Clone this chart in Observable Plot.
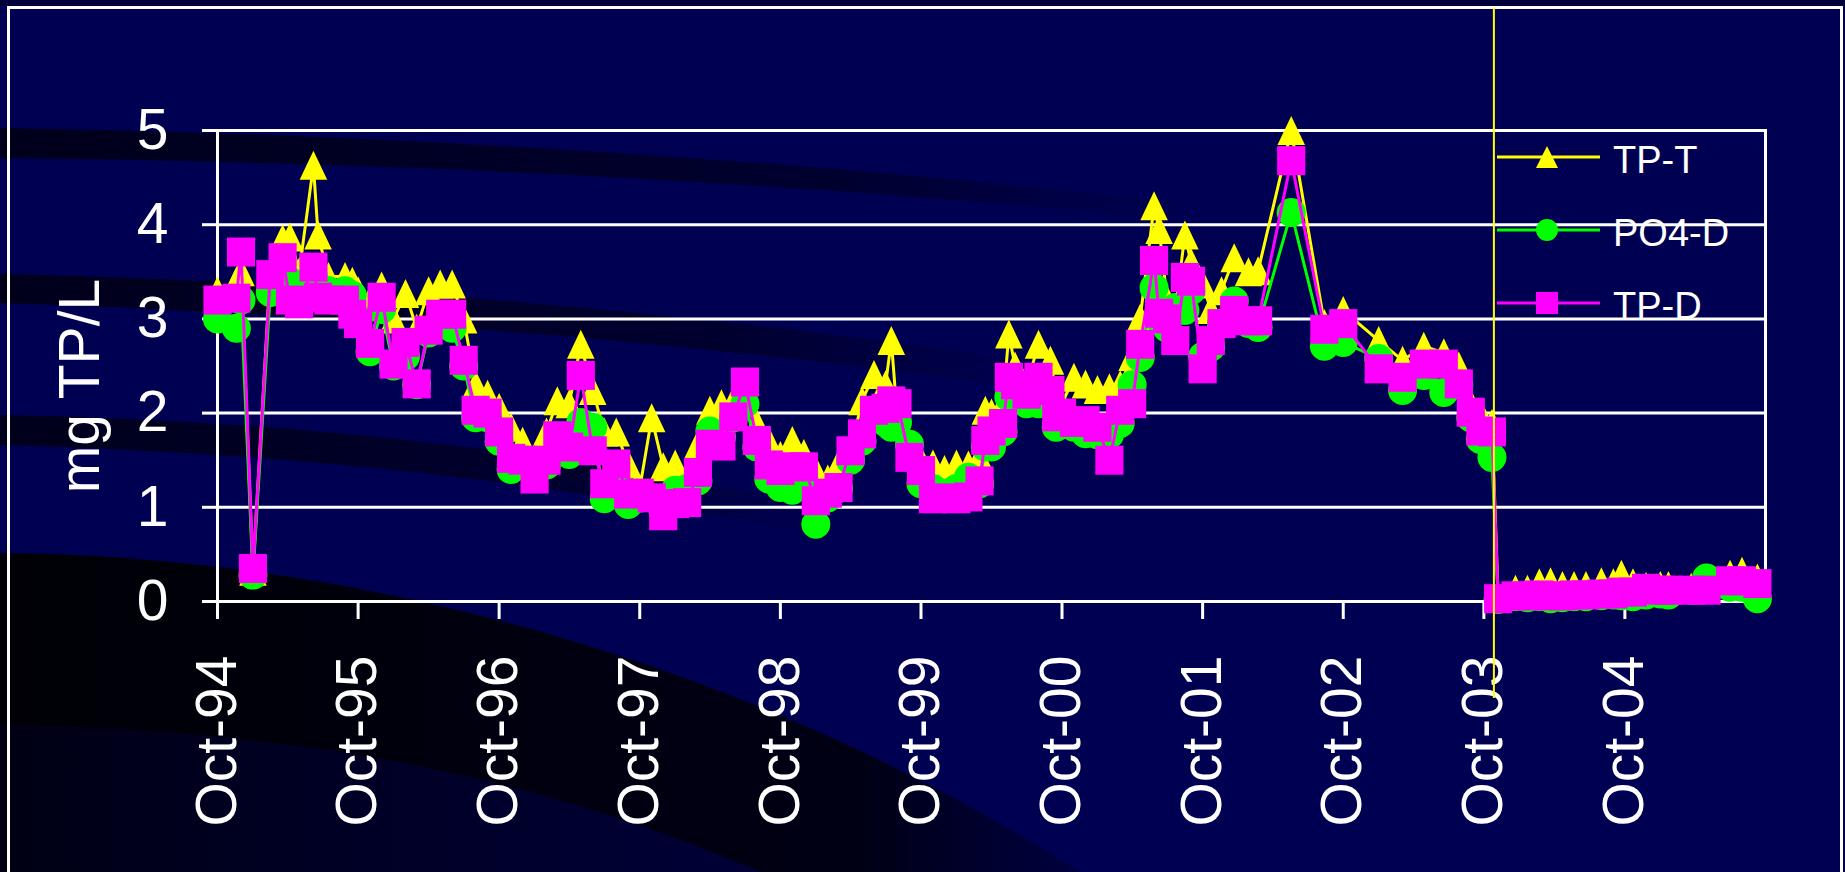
<!DOCTYPE html>
<html>
<head>
<meta charset="utf-8">
<script src="https://cdn.jsdelivr.net/npm/d3@7"></script>
<script src="https://cdn.jsdelivr.net/npm/@observablehq/plot@0.6"></script>
<style>
  html, body { margin: 0; padding: 0; width: 1845px; height: 872px; overflow: hidden; background: #000052; font-family: "Liberation Sans", Arial, sans-serif; }
  #bg { position: absolute; left: 0; top: 0; }
  #topstrip { position: absolute; left: 0; top: 0; width: 1845px; height: 6px; background: #00003a; }
  #border { position: absolute; left: 7px; top: 6px; width: 1830px; height: 1000px; border: 3px solid #ffffff; }
  #chart { position: absolute; left: 0; top: 0; }
  #legend { position: absolute; left: 1497px; top: 0; color: #ffffff; font-size: 38px; font-family: "Liberation Sans", Arial, sans-serif; }
  .lrow { position: absolute; left: 0; width: 260px; height: 40px; }
  .lrow svg { position: absolute; left: 0; top: 0; }
  .lrow span { position: absolute; left: 116px; top: 3px; line-height: 40px; white-space: nowrap; }
</style>
</head>
<body>
<svg id="bg" width="1845" height="872">
  <defs>
    <linearGradient id="fadeA" x1="0" x2="1" y1="0" y2="0">
      <stop offset="0" stop-color="#000018" stop-opacity="0.95"/>
      <stop offset="0.7" stop-color="#000018" stop-opacity="0.6"/>
      <stop offset="1" stop-color="#000018" stop-opacity="0"/>
    </linearGradient>
    <linearGradient id="fadeD" x1="0" x2="1" y1="0" y2="0">
      <stop offset="0" stop-color="#000006" stop-opacity="1"/>
      <stop offset="0.8" stop-color="#00000e" stop-opacity="0.9"/>
      <stop offset="1" stop-color="#000020" stop-opacity="0.4"/>
    </linearGradient>
    <linearGradient id="fadeE" x1="0" x2="1" y1="0" y2="0">
      <stop offset="0" stop-color="#000014" stop-opacity="1"/>
      <stop offset="1" stop-color="#000030" stop-opacity="0.8"/>
    </linearGradient>
  </defs>
  <path d="M0,128 C400,134 800,160 1200,205 L1200,222 C800,182 400,162 0,158 Z" fill="url(#fadeA)"/>
  <path d="M0,274 C300,280 700,310 1050,365 L1050,392 C700,340 300,312 0,303 Z" fill="url(#fadeA)"/>
  <path d="M0,415 C250,420 500,440 820,505 L820,535 C500,472 250,452 0,445 Z" fill="url(#fadeA)"/>
  <path d="M0,553 C350,555 750,660 1080,872 L760,872 C500,760 250,730 0,725 Z" fill="url(#fadeD)"/>
  <path d="M0,725 C250,730 500,760 760,872 L0,872 Z" fill="url(#fadeE)"/>
</svg>
<div id="topstrip"></div>
<div id="border"></div>
<div id="chart"></div>
<div id="legend"></div>
<script>
// ---- data ----
const dates = [
  "1994-10-01","1994-11-19","1994-12-01","1995-01-01","1995-02-15","1995-03-19","1995-04-07","1995-05-01",
  "1995-06-07","1995-06-19","1995-07-16","1995-08-28","1995-09-16","1995-10-01","1995-11-01","1995-12-01",
  "1996-01-01","1996-02-01","1996-03-01","1996-04-01","1996-05-01","1996-06-01","1996-07-01","1996-08-01",
  "1996-09-01","1996-10-01","1996-11-01","1996-12-01","1997-01-01","1997-02-01","1997-03-01","1997-04-01",
  "1997-05-01","1997-06-01","1997-07-01","1997-08-01","1997-09-01","1997-10-01","1997-11-01","1997-12-01",
  "1998-01-01","1998-02-01","1998-03-01","1998-04-01","1998-05-01","1998-06-01","1998-07-01","1998-08-01",
  "1998-09-01","1998-10-01","1998-11-01","1998-12-01","1999-01-01","1999-02-01","1999-03-01","1999-04-01",
  "1999-05-01","1999-06-01","1999-07-01","1999-07-16","1999-08-01","1999-09-01","1999-10-01","1999-11-01",
  "1999-12-01","2000-01-01","2000-02-01","2000-03-01","2000-03-16","2000-04-01","2000-05-01","2000-05-16",
  "2000-06-01","2000-07-01","2000-08-01","2000-09-01","2000-09-16","2000-10-01","2000-11-01","2000-12-01",
  "2001-01-01","2001-02-01","2001-03-01","2001-04-01","2001-04-22","2001-05-28","2001-06-10","2001-07-01",
  "2001-07-22","2001-08-16","2001-09-01","2001-10-01","2001-10-22","2001-11-19","2001-12-22","2002-01-28",
  "2002-02-22","2002-05-19","2002-08-13","2002-10-01","2003-01-01","2003-03-04","2003-04-28","2003-06-19",
  "2003-07-28","2003-08-28","2003-09-22","2003-10-22","2003-11-07","2003-12-22","2004-01-22","2004-02-22",
  "2004-03-22","2004-04-22","2004-05-22","2004-06-22","2004-08-01","2004-09-01","2004-09-22","2004-10-22",
  "2004-11-25","2005-01-01","2005-01-22","2005-03-22","2005-05-01","2005-07-01","2005-08-01","2005-09-10"
];
const tpT = [
  3.30,3.40,3.50,0.32,3.50,3.85,3.87,3.50,
  4.63,3.89,3.45,3.45,3.40,3.30,3.20,3.35,
  3.00,3.27,2.90,3.30,3.37,3.37,3.00,2.30,
  2.20,2.06,1.85,1.70,1.50,1.80,2.13,2.10,
  2.73,2.24,1.80,1.80,1.46,1.20,1.95,1.43,
  1.46,1.30,1.67,2.03,2.10,2.13,2.20,1.89,
  1.70,1.55,1.71,1.57,1.39,1.30,1.46,1.60,
  2.13,2.41,2.30,2.77,1.93,1.60,1.50,1.46,
  1.40,1.46,1.45,1.53,2.03,2.00,2.10,2.84,
  2.50,2.30,2.73,2.56,2.20,2.10,2.38,2.31,
  2.25,2.27,2.30,2.60,3.01,4.20,3.95,3.20,
  3.10,3.89,3.60,3.37,3.10,3.30,3.65,3.50,
  3.51,5.00,2.95,3.09,2.77,2.56,2.71,2.64,
  2.50,2.10,2.00,1.89,0.05,0.13,0.13,0.20,
  0.21,0.17,0.17,0.17,0.21,0.20,0.29,0.20,
  0.16,0.17,0.17,0.15,0.20,0.29,0.32,0.25
];
const po4D = [
  3.00,2.90,3.20,0.28,3.28,3.45,3.40,3.30,
  3.45,3.35,3.30,3.30,3.25,3.00,2.65,3.10,
  2.50,2.60,2.30,2.85,2.95,2.90,2.50,1.95,
  1.95,1.70,1.40,1.45,1.35,1.45,1.60,1.56,
  1.90,1.85,1.09,1.20,1.03,1.10,1.10,0.95,
  1.18,1.20,1.28,1.81,1.75,1.95,2.10,1.64,
  1.30,1.21,1.18,1.30,0.82,1.10,1.20,1.50,
  1.70,1.95,1.90,1.85,1.90,1.67,1.25,1.20,
  1.15,1.20,1.32,1.25,1.64,1.64,1.80,2.17,
  2.20,2.10,2.10,2.15,1.85,1.90,1.85,1.78,
  1.77,1.77,1.89,2.30,2.59,3.33,3.00,2.90,
  3.12,3.09,3.30,2.60,2.70,2.95,3.19,2.95,
  2.91,4.13,2.71,2.75,2.58,2.24,2.40,2.22,
  2.30,1.95,1.72,1.53,0.02,0.05,0.04,0.05,
  0.03,0.04,0.05,0.05,0.06,0.07,0.06,0.05,
  0.07,0.08,0.07,0.12,0.25,0.15,0.15,0.03
];
const tpD = [
  3.20,3.22,3.71,0.35,3.47,3.65,3.20,3.16,
  3.55,3.23,3.20,3.20,3.05,2.95,2.74,3.23,
  2.52,2.75,2.31,2.88,3.05,3.05,2.56,2.03,
  2.00,1.80,1.52,1.50,1.30,1.50,1.76,1.64,
  2.40,1.60,1.25,1.46,1.14,1.15,1.10,0.91,
  1.04,1.05,1.37,1.67,1.65,1.96,2.33,1.71,
  1.45,1.39,1.43,1.43,1.07,1.15,1.21,1.60,
  1.78,2.03,2.05,2.13,2.10,1.53,1.39,1.09,
  1.10,1.09,1.11,1.28,1.71,1.81,1.89,2.38,
  2.30,2.20,2.38,2.24,1.96,2.00,1.90,1.92,
  1.85,1.50,2.03,2.10,2.73,3.62,3.06,3.00,
  2.77,3.44,3.40,2.47,2.77,2.95,3.09,2.98,
  2.98,4.68,2.89,2.95,2.47,2.38,2.52,2.52,
  2.31,2.01,1.81,1.80,0.03,0.06,0.06,0.07,
  0.06,0.06,0.07,0.07,0.08,0.08,0.10,0.10,
  0.14,0.12,0.12,0.12,0.12,0.22,0.22,0.19
];
const seriesNames = ["TP-T", "PO4-D", "TP-D"];
const seriesColors = ["#ffff00", "#00ff00", "#ff00ff"];
const yTicks = [0, 1, 2, 3, 4, 5];
const yTickLabels = ["0", "1", "2", "3", "4", "5"];
const xTickDates = ["1994-10-01","1995-10-01","1996-10-01","1997-10-01","1998-10-01","1999-10-01",
                    "2000-10-01","2001-10-01","2002-10-01","2003-10-01","2004-10-01"];
const xTickLabels = ["Oct-94","Oct-95","Oct-96","Oct-97","Oct-98","Oct-99",
                     "Oct-00","Oct-01","Oct-02","Oct-03","Oct-04"];
const xDomain = ["1994-10-01", "2005-10-01"];
const yLabel = "mg TP/L";
const markerLine = [{date: "2003-10-27", lo: -1.03, hi: 6.3}];   // vertical reference line

// ---- build ----
const rows = dates.map((d, i) => ({date: new Date(d), tpT: tpT[i], po4D: po4D[i], tpD: tpD[i]}));
const tickDates = xTickDates.map(d => new Date(d));
const markerRows = markerLine.map(m => ({date: new Date(m.date), lo: m.lo, hi: m.hi}));

const triSym = {draw(ctx, size) { const r = Math.sqrt(size / Math.PI); ctx.moveTo(0, -r); ctx.lineTo(r * 0.95, r); ctx.lineTo(-r * 0.95, r); ctx.closePath(); }};
const sqSym = {draw(ctx, size) { const r = Math.sqrt(size / Math.PI); ctx.rect(-r * 0.97, -r, r * 1.94, r * 2); }};
const circSym = {draw(ctx, size) { const r = Math.sqrt(size / Math.PI); ctx.moveTo(r, 0); ctx.arc(0, 0, r, 0, 2 * Math.PI); }};
const symbols = [triSym, circSym, sqSym];
const keys = ["tpT", "po4D", "tpD"];

const seriesMarks = keys.flatMap((k, i) => [
  Plot.line(rows, {x: "date", y: k, stroke: seriesColors[i], strokeWidth: 3}),
  Plot.dot(rows, {x: "date", y: k, symbol: symbols[i], r: 14.5, fill: seriesColors[i], stroke: "none"})
]);

const chart = Plot.plot({
  width: 1845,
  height: 872,
  marginLeft: 217,
  marginRight: 80,
  marginTop: 130,
  marginBottom: 271,
  style: {background: "transparent", color: "#ffffff", fontFamily: "'Liberation Sans', Arial, sans-serif", fontSize: "57px", overflow: "visible"},
  x: {type: "utc", domain: xDomain.map(d => new Date(d))},
  y: {domain: [0, 5]},
  marks: [
    Plot.gridY(yTicks, {stroke: "#ffffff", strokeOpacity: 1, strokeWidth: 3}),
    Plot.frame({stroke: "#ffffff", strokeWidth: 3}),
    Plot.axisY(yTicks, {tickSize: 15, tickPadding: 34, strokeWidth: 3, fontSize: 57, label: null,
      tickFormat: d => yTickLabels[yTicks.indexOf(d)]}),
    Plot.axisX(tickDates, {
      tickSize: 18, tickPadding: 36, strokeWidth: 3, fontSize: 57, tickRotate: -90, label: null,
      tickFormat: d => xTickLabels[tickDates.findIndex(t => +t === +d)]
    }),
    Plot.text([yLabel], {frameAnchor: "left", textAnchor: "middle", lineAnchor: "middle", dx: -137, dy: 20, rotate: -90, fontSize: 57, fill: "#ffffff"}),
    ...seriesMarks,
    Plot.ruleX(markerRows, {x: "date", y1: "lo", y2: "hi", stroke: "#ffff00", strokeWidth: 2})
  ]
});
document.getElementById("chart").appendChild(chart);

// ---- legend ----
const legend = document.getElementById("legend");
const rowTops = [137, 210, 283];
const legendSym = [
  '<polygon points="50,9 61,31 39,31" />',
  '<circle cx="50" cy="20" r="11" />',
  '<rect x="39" y="9" width="22" height="22" />'
];
seriesNames.forEach((name, i) => {
  const row = document.createElement("div");
  row.className = "lrow";
  row.style.top = rowTops[i] + "px";
  row.innerHTML = `<svg width="104" height="40"><line x1="0" x2="103" y1="20" y2="20" stroke="${seriesColors[i]}" stroke-width="3"/><g fill="${seriesColors[i]}">${legendSym[i]}</g></svg><span>${name}</span>`;
  legend.appendChild(row);
});
</script>
</body>
</html>
